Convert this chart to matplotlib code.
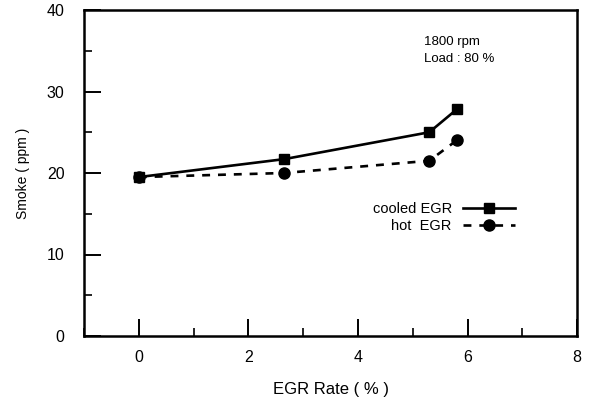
import matplotlib
matplotlib.use("Agg")
import matplotlib.pyplot as plt
from matplotlib.ticker import MultipleLocator

plt.rcParams['font.family'] = ['Liberation Sans', 'DejaVu Sans']

# EGR rate (%) and smoke (ppm)
egr_rate = [0.0, 2.65, 5.3, 5.8]
smoke_cooled = [19.5, 21.7, 25.0, 27.8]
smoke_hot = [19.5, 20.0, 21.5, 24.0]
series_labels = ["cooled EGR", "hot  EGR"]
x_ticks = [0, 2, 4, 6, 8]
y_ticks = [0, 10, 20, 30, 40]

fig = plt.figure(figsize=(5.92, 4.0), dpi=100)
ax = fig.add_axes([0.142, 0.16, 0.833, 0.815])

ax.plot(egr_rate, smoke_cooled, color='black', lw=1.9, ls='-',
        marker='s', ms=7, label=series_labels[0])
ax.plot(egr_rate, smoke_hot, color='black', lw=1.9, ls=(0, (3, 3)),
        marker='o', ms=8, label=series_labels[1])

ax.set_xlim(-1, 8)
ax.set_ylim(0, 40)
ax.set_xticks(x_ticks)
ax.set_yticks(y_ticks)
ax.xaxis.set_minor_locator(MultipleLocator(1))
ax.yaxis.set_minor_locator(MultipleLocator(5))
ax.tick_params(which='major', direction='in', length=12, width=1.4,
               labelsize=11.5, pad=10, top=False, right=False)
ax.tick_params(which='minor', direction='in', length=6, width=1.2,
               top=False, right=False)
ax.tick_params(axis='y', which='major', pad=14)
for s in ax.spines.values():
    s.set_linewidth(1.8)

ax.set_xlabel("EGR Rate ( % )", fontsize=12, labelpad=12)
ax.set_ylabel("Smoke ( ppm )", fontsize=10, labelpad=12)

ax.text(0.69, 0.92, "1800 rpm\nLoad : 80 %", transform=ax.transAxes,
        fontsize=9.5, va='top', ha='left', linespacing=1.5)

leg = ax.legend(loc='upper left', bbox_to_anchor=(0.585, 0.41),
                frameon=False, markerfirst=False, fontsize=10.5,
                handlelength=3.5, labelspacing=0.2, handletextpad=0.8,
                borderpad=0, borderaxespad=0)

fig.savefig("out.png", dpi=100)
